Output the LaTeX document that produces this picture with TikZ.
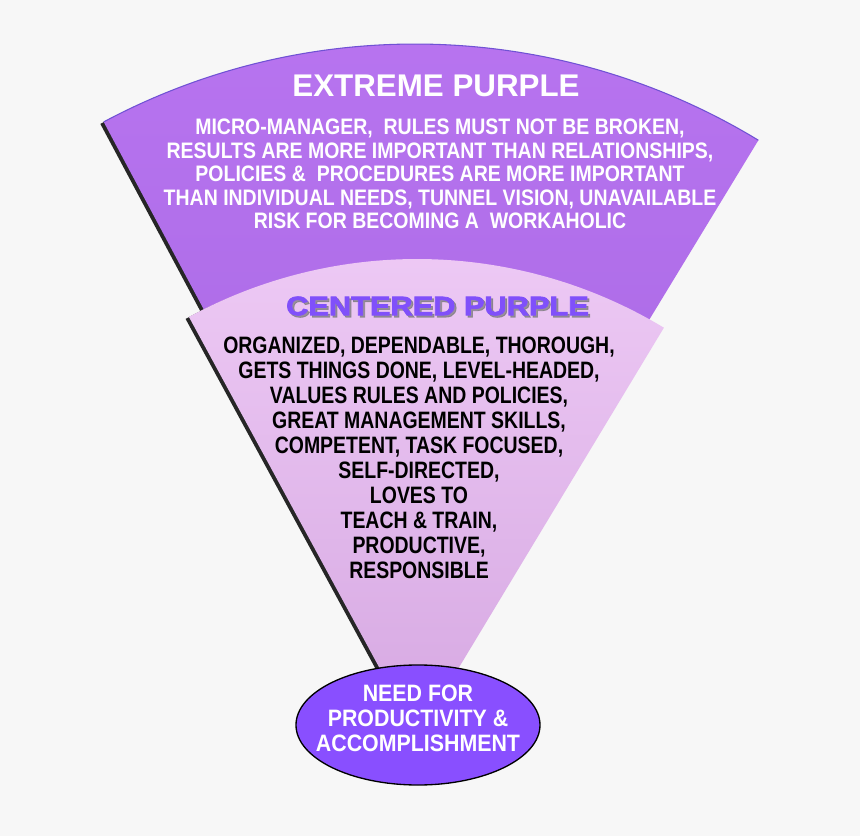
\documentclass[tikz,border=0pt]{standalone}
\usepackage{fontspec}
\usepackage{tikz}
\usetikzlibrary{shapes.geometric, positioning}
\newfontfamily\titlefont{Liberation Sans Bold}
\newfontfamily\whitenarrow[FakeStretch=0.87]{Liberation Sans Bold}
\newfontfamily\blacknarrow[FakeStretch=0.82]{Liberation Sans Bold}
\newfontfamily\heavyfont[FakeStretch=1.16,FakeBold=3]{Liberation Sans Bold}
\newfontfamily\ovalfont[FakeStretch=0.9]{Liberation Sans Bold}
\definecolor{bgGray}{RGB}{247,247,247}
\definecolor{extremeTop}{RGB}{184,116,240}
\definecolor{extremeBot}{RGB}{164,102,224}
\definecolor{centeredTop}{RGB}{238,202,245}
\definecolor{centeredBot}{RGB}{214,168,226}
\definecolor{needFill}{RGB}{137,79,255}
\definecolor{titlePurple}{RGB}{128,80,250}
\definecolor{edgeBlue}{RGB}{112,82,212}
\definecolor{shadowGray}{RGB}{120,120,120}
\tikzset{
    extremeBand/.style={top color=extremeTop, bottom color=extremeBot},
    centeredBand/.style={top color=centeredTop, bottom color=centeredBot},
    bandShadow/.style={fill=black!85, xshift=-2.5pt, yshift=-1.5pt},
    bandTitle/.style={inner sep=0pt, align=center},
    bandText/.style={inner sep=0pt, align=center},
    needOval/.style={draw=black, line width=1pt, fill=needFill}
}

\begin{document}
\begin{tikzpicture}[x=0.75pt, y=0.75pt]
    \useasboundingbox (0,0) rectangle (860,836);
    \fill[bgGray] (0,0) rectangle (860,836);

    % --- EXTREME PURPLE BAND ---
    \fill[bandShadow] (415,131) -- ++(118.1:661) arc[start angle=118.1, end angle=58.7, radius=661] -- cycle;
    \shade[extremeBand] (415,131) -- ++(118.1:661) arc[start angle=118.1, end angle=58.7, radius=661] -- cycle;
    \draw[edgeBlue, line width=0.8pt] (415,131) ++(118.1:661) arc[start angle=118.1, end angle=58.7, radius=661];

    \node[bandTitle, text=white, font=\titlefont\fontsize{23.5}{27}\selectfont] (extremeTitle) at (436,750) {EXTREME PURPLE};
    \node[bandText, text=white, font=\whitenarrow\fontsize{16.8}{17.6}\selectfont] (extremeText) at (440,662) {
        MICRO-MANAGER,\ \ RULES MUST NOT BE BROKEN,\\
        RESULTS ARE MORE IMPORTANT THAN RELATIONSHIPS,\\
        POLICIES \&\ \ PROCEDURES ARE MORE IMPORTANT\\
        THAN INDIVIDUAL NEEDS, TUNNEL VISION, UNAVAILABLE\\
        RISK FOR BECOMING A\ \ WORKAHOLIC
    };

    % --- CENTERED PURPLE BAND ---
    \fill[bandShadow] (417,99) -- ++(118.5:478) arc[start angle=118.5, end angle=58.9, radius=478] -- cycle;
    \shade[centeredBand] (417,99) -- ++(118.5:478) arc[start angle=118.5, end angle=58.9, radius=478] -- cycle;

    \node[bandTitle, text=shadowGray, opacity=0.7, font=\heavyfont\fontsize{19.9}{24}\selectfont] (centeredShadow) at (439.5,528) {CENTERED PURPLE};
    \node[bandTitle, text=titlePurple, font=\heavyfont\fontsize{19.9}{24}\selectfont] (centeredTitle) at (437.5,530) {CENTERED PURPLE};
    \node[bandText, text=black, font=\blacknarrow\fontsize{17.8}{18.75}\selectfont] (centeredText) at (419,378) {
        ORGANIZED, DEPENDABLE, THOROUGH,\\
        GETS THINGS DONE, LEVEL-HEADED,\\
        VALUES RULES AND POLICIES,\\
        GREAT MANAGEMENT SKILLS,\\
        COMPETENT, TASK FOCUSED,\\
        SELF-DIRECTED,\\
        LOVES TO\\
        TEACH \& TRAIN,\\
        PRODUCTIVE,\\
        RESPONSIBLE
    };

    % --- NEED ---
    \filldraw[needOval] (418,111) ellipse [x radius=122, y radius=60];
    \node[bandText, text=white, font=\ovalfont\fontsize{17.8}{18.75}\selectfont] (need) at (418,118) {NEED FOR\\ PRODUCTIVITY \&\\ ACCOMPLISHMENT};

\end{tikzpicture}
\end{document}
